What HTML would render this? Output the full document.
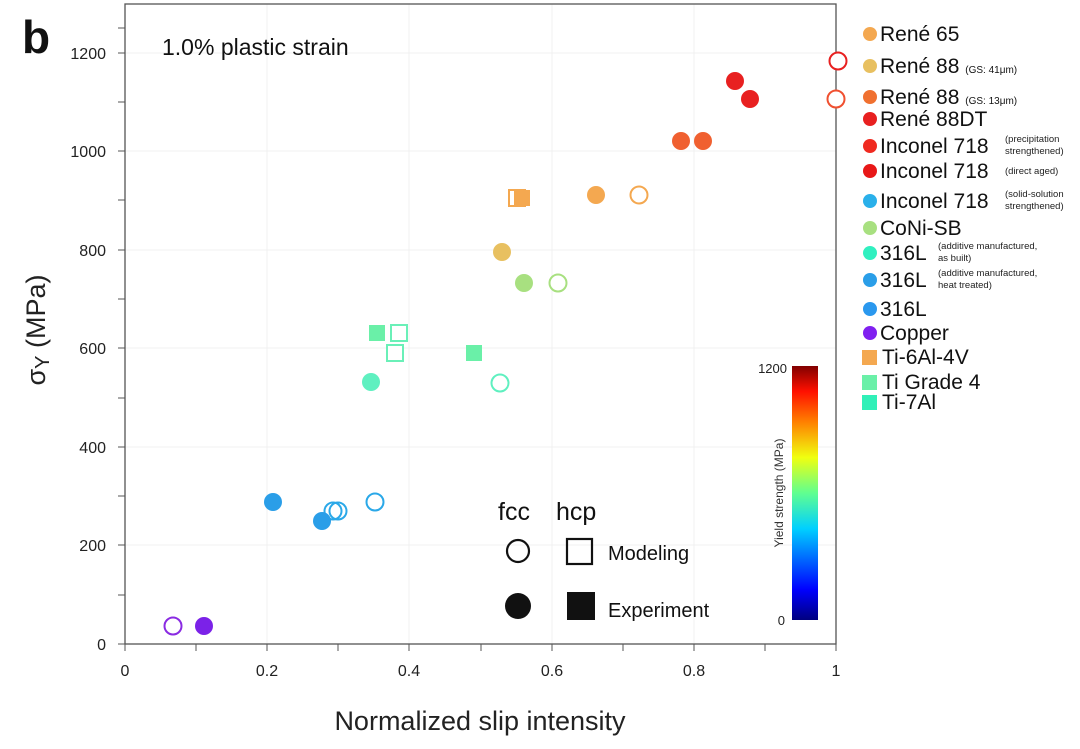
<!DOCTYPE html>
<html><head><meta charset="utf-8"><style>
body{margin:0;background:#fff;}
text{font-family:"Liberation Sans",sans-serif;}
</style></head><body>
<svg width="1080" height="744" xmlns="http://www.w3.org/2000/svg">
<defs>
<linearGradient id="jet" x1="0" y1="1" x2="0" y2="0">
<stop offset="0" stop-color="#00007f"/><stop offset="0.12" stop-color="#0000ff"/><stop offset="0.36" stop-color="#00d0ff"/><stop offset="0.5" stop-color="#60ff90"/><stop offset="0.64" stop-color="#f0ff10"/><stop offset="0.78" stop-color="#ff8000"/><stop offset="0.9" stop-color="#ff1000"/><stop offset="1" stop-color="#800000"/>
</linearGradient>
</defs>
<g stroke="#f0f0f0" stroke-width="1">
<line x1="267" y1="4" x2="267" y2="644"/><line x1="409" y1="4" x2="409" y2="644"/><line x1="552" y1="4" x2="552" y2="644"/><line x1="694" y1="4" x2="694" y2="644"/>
<line x1="125" y1="545" x2="836" y2="545"/><line x1="125" y1="447" x2="836" y2="447"/><line x1="125" y1="348" x2="836" y2="348"/><line x1="125" y1="250" x2="836" y2="250"/><line x1="125" y1="151" x2="836" y2="151"/><line x1="125" y1="53" x2="836" y2="53"/>
</g>
<rect x="125" y="4" width="711" height="640" fill="none" stroke="#555" stroke-width="1.3"/>
<g stroke="#555" stroke-width="1">
<line x1="118" y1="644" x2="125" y2="644"/><line x1="118" y1="595" x2="125" y2="595"/><line x1="118" y1="545" x2="125" y2="545"/><line x1="118" y1="496" x2="125" y2="496"/><line x1="118" y1="447" x2="125" y2="447"/><line x1="118" y1="398" x2="125" y2="398"/><line x1="118" y1="348" x2="125" y2="348"/><line x1="118" y1="299" x2="125" y2="299"/><line x1="118" y1="250" x2="125" y2="250"/><line x1="118" y1="200" x2="125" y2="200"/><line x1="118" y1="151" x2="125" y2="151"/><line x1="118" y1="102" x2="125" y2="102"/><line x1="118" y1="53" x2="125" y2="53"/><line x1="118" y1="28" x2="125" y2="28"/>
<line x1="125" y1="644" x2="125" y2="651"/><line x1="196" y1="644" x2="196" y2="651"/><line x1="267" y1="644" x2="267" y2="651"/><line x1="338" y1="644" x2="338" y2="651"/><line x1="409" y1="644" x2="409" y2="651"/><line x1="481" y1="644" x2="481" y2="651"/><line x1="552" y1="644" x2="552" y2="651"/><line x1="623" y1="644" x2="623" y2="651"/><line x1="694" y1="644" x2="694" y2="651"/><line x1="765" y1="644" x2="765" y2="651"/><line x1="836" y1="644" x2="836" y2="651"/>
</g>
<g font-size="16" fill="#222" text-anchor="end">
<text x="106" y="650">0</text><text x="106" y="551">200</text><text x="106" y="453">400</text><text x="106" y="354">600</text><text x="106" y="256">800</text><text x="106" y="157">1000</text><text x="106" y="59">1200</text>
</g>
<g font-size="16" fill="#222" text-anchor="middle">
<text x="125" y="676">0</text><text x="267" y="676">0.2</text><text x="409" y="676">0.4</text><text x="552" y="676">0.6</text><text x="694" y="676">0.8</text><text x="836" y="676">1</text>
</g>
<text x="480" y="730" font-size="27" fill="#222" text-anchor="middle">Normalized slip intensity</text>
<text transform="translate(45,330) rotate(-90)" font-size="27" fill="#222" text-anchor="middle">σ<tspan font-size="20" dy="4">Y</tspan><tspan dy="-4"> (MPa)</tspan></text>
<text x="22" y="53" font-size="46" font-weight="bold" fill="#111">b</text>
<text x="162" y="55" font-size="23" fill="#111">1.0% plastic strain</text>
<g stroke-width="2" fill="#fff">
<circle cx="173" cy="626" r="8.5" stroke="#8a2be2"/>
<circle cx="333" cy="511" r="8.5" stroke="#2aa8e8"/>
<circle cx="338" cy="511" r="8.5" stroke="#2aa8e8" fill="none"/>
<circle cx="375" cy="502" r="8.5" stroke="#2aa8e8"/>
<circle cx="500" cy="383" r="8.5" stroke="#5ff0c0"/>
<circle cx="558" cy="283" r="8.5" stroke="#a8e080"/>
<circle cx="639" cy="195" r="8.5" stroke="#f4a850"/>
<circle cx="836" cy="99" r="8.5" stroke="#f05030"/>
<circle cx="838" cy="61" r="8.5" stroke="#e82020"/>
<rect x="509" y="190" width="16" height="16" stroke="#f4a850"/>
<rect x="391" y="325" width="16" height="16" stroke="#6af0b8"/>
<rect x="387" y="345" width="16" height="16" stroke="#6af0b8"/>
</g>
<g stroke="none">
<rect x="514" y="190" width="16" height="16" fill="#f4a850"/>
<rect x="369" y="325" width="16" height="16" fill="#6af0a8"/>
<rect x="466" y="345" width="16" height="16" fill="#6af0a8"/>
<circle cx="204" cy="626" r="9" fill="#7b22e8"/>
<circle cx="322" cy="521" r="9" fill="#2a9ee8"/>
<circle cx="273" cy="502" r="9" fill="#2a9ee8"/>
<circle cx="371" cy="382" r="9" fill="#5ff0c0"/>
<circle cx="524" cy="283" r="9" fill="#a8e080"/>
<circle cx="502" cy="252" r="9" fill="#e8c060"/>
<circle cx="596" cy="195" r="9" fill="#f4a850"/>
<circle cx="681" cy="141" r="9" fill="#f06030"/>
<circle cx="703" cy="141" r="9" fill="#f06030"/>
<circle cx="735" cy="81" r="9" fill="#e82020"/>
<circle cx="750" cy="99" r="9" fill="#e82020"/>
</g>
<text x="498" y="520" font-size="25" fill="#111">fcc</text>
<text x="556" y="520" font-size="25" fill="#111">hcp</text>
<circle cx="518" cy="551" r="11" fill="none" stroke="#111" stroke-width="2.2"/>
<rect x="567" y="539" width="25" height="25" fill="none" stroke="#111" stroke-width="2.2"/>
<text x="608" y="560" font-size="20" fill="#111">Modeling</text>
<circle cx="518" cy="606" r="13" fill="#111"/>
<rect x="567" y="592" width="28" height="28" fill="#111"/>
<text x="608" y="617" font-size="20" fill="#111">Experiment</text>
<rect x="792" y="366" width="26" height="254" fill="url(#jet)"/>
<text x="787" y="373" font-size="13" fill="#222" text-anchor="end">1200</text>
<text x="785" y="625" font-size="13" fill="#222" text-anchor="end">0</text>
<text transform="translate(783,493) rotate(-90)" font-size="12" fill="#333" text-anchor="middle">Yield strength (MPa)</text>
<g font-size="21" fill="#111">
<circle cx="870" cy="34" r="7" fill="#f4a850"/><text x="880" y="41">René 65</text>
<circle cx="870" cy="66" r="7" fill="#e8c060"/><text x="880" y="73">René 88 <tspan font-size="10">(GS: 41μm)</tspan></text>
<circle cx="870" cy="97" r="7" fill="#f07030"/><text x="880" y="104">René 88 <tspan font-size="10">(GS: 13μm)</tspan></text>
<circle cx="870" cy="119" r="7" fill="#e82020"/><text x="880" y="126">René 88DT</text>
<circle cx="870" cy="146" r="7" fill="#f02a20"/><text x="880" y="153">Inconel 718</text>
<circle cx="870" cy="171" r="7" fill="#e81818"/><text x="880" y="178">Inconel 718</text>
<circle cx="870" cy="201" r="7" fill="#2ab0ea"/><text x="880" y="208">Inconel 718</text>
<circle cx="870" cy="228" r="7" fill="#a8e080"/><text x="880" y="235">CoNi-SB</text>
<circle cx="870" cy="253" r="7" fill="#30f0c0"/><text x="880" y="260">316L</text>
<circle cx="870" cy="280" r="7" fill="#2a9ee8"/><text x="880" y="287">316L</text>
<circle cx="870" cy="309" r="7" fill="#2a98ee"/><text x="880" y="316">316L</text>
<circle cx="870" cy="333" r="7" fill="#8020f0"/><text x="880" y="340">Copper</text>
<rect x="862" y="350" width="15" height="15" fill="#f4a850"/><text x="882" y="364">Ti-6Al-4V</text>
<rect x="862" y="375" width="15" height="15" fill="#6af0a8"/><text x="882" y="389">Ti Grade 4</text>
<rect x="862" y="395" width="15" height="15" fill="#30f0b8"/><text x="882" y="409">Ti-7Al</text>
</g>
<g font-size="9.5" fill="#222">
<text x="1005" y="142">(precipitation</text><text x="1005" y="154">strengthened)</text>
<text x="1005" y="174">(direct aged)</text>
<text x="1005" y="197">(solid-solution</text><text x="1005" y="209">strengthened)</text>
<text x="938" y="249">(additive manufactured,</text><text x="938" y="261">as built)</text>
<text x="938" y="276">(additive manufactured,</text><text x="938" y="288">heat treated)</text>
</g>
</svg>
</body></html>
